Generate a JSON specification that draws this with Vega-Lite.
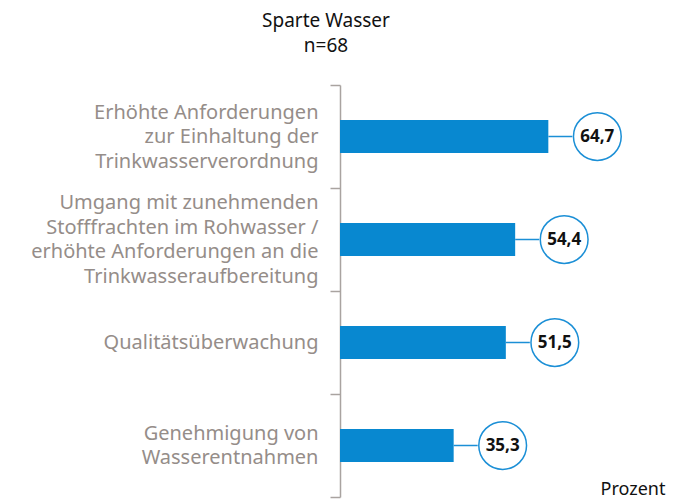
{
  "$schema": "https://vega.github.io/schema/vega-lite/v6.json",
  "autosize": "none",
  "width": 322,
  "height": 412,
  "padding": {"left": 340, "top": 85, "right": 22, "bottom": 5},
  "background": "white",
  "config": {
    "view": {"stroke": null},
    "font": "Noto Sans"
  },
  "title": {
    "text": ["Sparte Wasser", "n=68"],
    "fontSize": 19,
    "fontWeight": "normal",
    "color": "#111111",
    "lineHeight": 25,
    "anchor": "middle",
    "dx": -175,
    "offset": 19,
    "font": "Noto Sans"
  },
  "data": {
    "values": [
      {"kategorie": "Erhöhte Anforderungen|zur Einhaltung der|Trinkwasserverordnung", "wert": 64.7, "label": "64,7"},
      {"kategorie": "Umgang mit zunehmenden|Stofffrachten im Rohwasser /|erhöhte Anforderungen an die|Trinkwasseraufbereitung", "wert": 54.4, "label": "54,4"},
      {"kategorie": "Qualitätsüberwachung", "wert": 51.5, "label": "51,5"},
      {"kategorie": "Genehmigung von|Wasserentnahmen", "wert": 35.3, "label": "35,3"}
    ]
  },
  "encoding": {
    "y": {
      "field": "kategorie",
      "type": "nominal",
      "sort": null,
      "scale": {"paddingInner": 0, "paddingOuter": 0},
      "axis": {
        "title": null,
        "tickBand": "extent",
        "domainColor": "#a9a3a0",
        "domainWidth": 1.5,
        "tickColor": "#a9a3a0",
        "tickWidth": 1.5,
        "tickSize": 10,
        "labelPadding": 12,
        "labelFontSize": 20,
        "labelLineHeight": 24.5,
        "labelBaseline": "middle",
        "labelOffset": {"expr": "-(length(split(datum.label, '|')) - 1) * 12.25"},
        "labelColor": "#958d89",
        "labelLimit": 400,
        "labelExpr": "split(datum.label, '|')"
      }
    },
    "x": {
      "field": "wert",
      "type": "quantitative",
      "scale": {"domain": [0, 100], "nice": false},
      "axis": {
        "title": "Prozent",
        "labels": false,
        "ticks": false,
        "domain": false,
        "grid": false,
        "titleFontSize": 18,
        "titleFontWeight": "normal",
        "titleColor": "#111111",
        "titleAlign": "right",
        "titleBaseline": "alphabetic",
        "titleX": 325,
        "titleY": -3
      }
    }
  },
  "layer": [
    {
      "mark": {"type": "bar", "color": "#0888d0", "height": {"band": 0.32}}
    },
    {
      "mark": {"type": "rule", "color": "#1b8fd6", "strokeWidth": 1.5, "x2Offset": 24},
      "encoding": {"x2": {"field": "wert"}}
    },
    {
      "mark": {"type": "point", "shape": "circle", "filled": false, "fill": "white", "fillOpacity": 1, "stroke": "#1b8fd6", "strokeWidth": 1.5, "size": 2280, "xOffset": 49, "opacity": 1}
    },
    {
      "mark": {"type": "text", "xOffset": 49, "fontSize": 17, "fontWeight": "bold", "color": "#111111", "font": "Noto Sans"},
      "encoding": {"text": {"field": "label"}}
    }
  ]
}
